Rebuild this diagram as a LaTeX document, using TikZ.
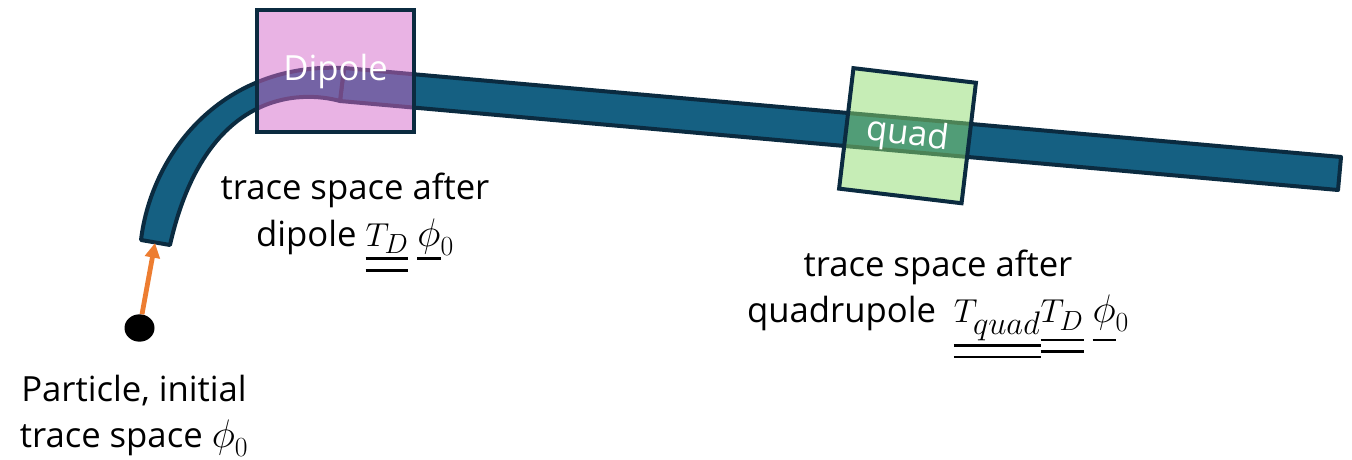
\documentclass[tikz,border=0pt]{standalone}
\usepackage{fontspec}
\usepackage{graphicx}
\setmainfont{Open Sans}
\usetikzlibrary{arrows.meta,shapes.geometric}
\DeclareMathSizes{26}{29}{22}{16}
\definecolor{beamblue}{HTML}{156082}
\definecolor{edgeblue}{HTML}{0B2B40}
\definecolor{dipolepink}{HTML}{D367C9}
\definecolor{quadgreen}{HTML}{8DDB6D}
\definecolor{arroworange}{HTML}{ED7D31}
\newcommand{\barone}[2]{\setbox0\hbox{$#2$}\smash{\rlap{\rule[-#1]{\wd0}{2pt}}}\box0}
\newcommand{\bartwo}[2]{\setbox0\hbox{$#2$}\smash{\rlap{\rule[-#1]{\wd0}{2pt}}\rlap{\rule[-\dimexpr#1+8.6pt\relax]{\wd0}{2pt}}}\box0}
\newcommand{\bigphi}{\scalebox{1.2}{$\phi$}}
\begin{document}
\begin{tikzpicture}[x=0.75pt,y=-0.75pt,>={Triangle[width=11pt,length=11pt]},
  beam part/.style={draw=edgeblue,fill=beamblue,line width=3pt,line join=round},
  magnet node/.style={draw=edgeblue,line width=3pt,fill opacity=0.5,text opacity=1,text=white,inner sep=0pt,
    minimum height=91pt,font=\fontsize{26}{31}\selectfont},
  label node/.style={align=center,inner sep=0pt,font=\fontsize{26}{35}\selectfont}]

  \useasboundingbox (0,0) rectangle (1352,460);

  \draw[beam part] (344,68) -- (1341,157) -- (1338,190) -- (340,101) -- cycle;
  \draw[beam part] (141,240) .. controls (152,150) and (225,62) .. (344,68) -- (340,101)
    .. controls (300,90) and (205,90) .. (170,245) -- cycle;

  \node[magnet node,fill=dipolepink,minimum width=118pt] (dipole) at (335.5,71) {Dipole};
  \node[magnet node,fill=quadgreen,minimum width=92.5pt,rotate=-6.8] (quad) at (907.5,135.7) {quad};

  \coordinate (beamstart) at (155,243);
  \node[ellipse,fill=black,inner sep=0pt,minimum width=22.5pt,minimum height=20.5pt] (particle) at (139.5,328) {};
  \draw[->,arroworange,line width=3.6pt] (particle) -- (beamstart);

  \node[label node] (dipolelabel) at (355,214) {trace space after\\dipole $\bartwo{10.5pt}{T_D}$ $\barone{10.5pt}{\bigphi}_0$};
  \node[label node] (quadlabel) at (938,295) {trace space after\\quadrupole \ $\bartwo{18pt}{T_{\scalebox{1.18}{$\scriptstyle quad$}}}\bartwo{13.8pt}{T_D}$ $\barone{13.8pt}{\bigphi}_0$};
  \node[label node,font=\fontsize{26}{34}\selectfont] (particlelabel) at (134,416) {Particle, initial\\trace space $\bigphi_0$};
\end{tikzpicture}
\end{document}
